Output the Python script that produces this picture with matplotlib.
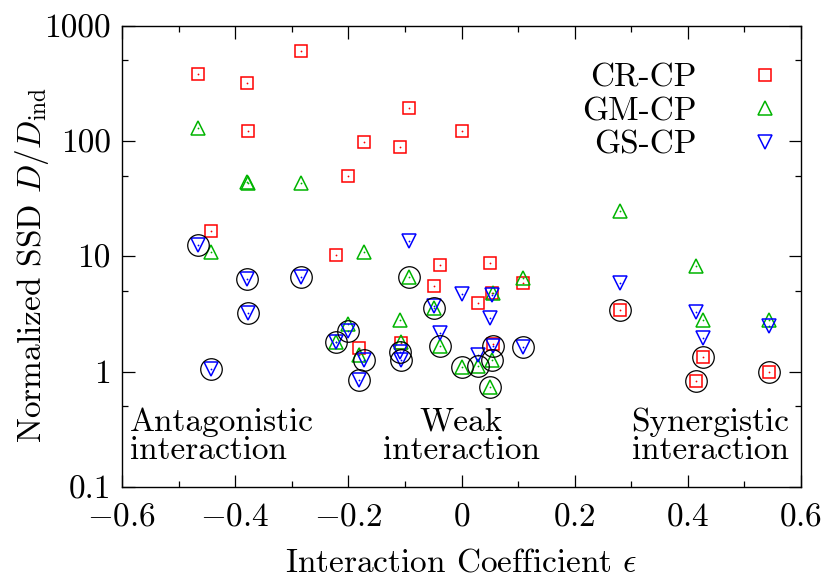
import numpy as np
import matplotlib
matplotlib.use("Agg")
import matplotlib.pyplot as plt

plt.rcParams['font.family'] = ['cmr10']
plt.rcParams['mathtext.fontset'] = 'cm'
plt.rcParams['axes.unicode_minus'] = True
plt.rcParams['axes.formatter.use_mathtext'] = True

# ---- data ----
eps = [-0.466, -0.443, -0.379, -0.377, -0.284, -0.221, -0.200, -0.181, -0.172,
       -0.108, -0.107, -0.093, -0.049, -0.038, 0.001, 0.030, 0.050, 0.054,
       0.055, 0.108, 0.280, 0.414, 0.427, 0.544]
cr_cp = [381, 16.6, 318, 122, 602, 10.3, 49.8, 1.61, 98, 88.6, 1.77, 193, 5.5,
         8.4, 122, 3.95, 8.75, 4.8, 1.74, 5.9, 3.43, 0.83, 1.34, 1.0]
gm_cp = [129, 10.8, 44.4, 43.0, 43.0, 1.79, 2.59, 1.40, 10.8, 2.81, 1.82, 6.6,
         3.55, 1.67, 1.106, 1.13, 0.743, 1.26, 4.8, 6.45, 24.5, 8.2, 2.8, 2.8]
gs_cp = [12.6, 1.06, 6.4, 3.22, 6.55, 1.79, 2.26, 0.85, 1.26, 1.49, 1.26, 13.6,
         3.72, 2.16, 4.7, 1.40, 2.91, 4.63, 1.67, 1.62, 5.85, 3.27, 1.97, 2.47]

series_names = ['CR-CP', 'GM-CP', 'GS-CP']
xticks = [-0.6, -0.4, -0.2, 0, 0.2, 0.4, 0.6]
xticklabels = [r'$-0.6$', r'$-0.4$', r'$-0.2$', r'$0$', r'$0.2$', r'$0.4$', r'$0.6$']
yticks = [0.1, 1, 10, 100, 1000]
yticklabels = ['0.1', '1', '10', '100', '1000']

colors = ['#ff0000', '#00b400', '#0000ff']
markers = ['s', '^', 'v']
msizes = [9.0, 9.8, 9.8]
FS = 24

fig = plt.figure(figsize=(8.24, 5.78), dpi=100)
ax = fig.add_axes([122/824, 1 - 487/578, (801-122)/824, (487-25.6)/578])

eps_a = np.array(eps)
all_vals = np.array([cr_cp, gm_cp, gs_cp])
for vals, name, c, m, ms in zip(all_vals, series_names, colors, markers, msizes):
    ax.plot(eps_a, vals, linestyle='none', marker=m, ms=ms, mfc='none',
            mec=c, mew=1.1, label=name, zorder=3)
    ax.plot(eps_a, vals, linestyle='none', marker='o', ms=1.3, mfc=c, mec=c,
            mew=0, zorder=3)

# circle the best (lowest) method for each experiment
best = all_vals.min(axis=0)
ax.plot(eps_a, best, linestyle='none', marker='o', ms=15.5, mfc='none',
        mec='black', mew=0.9, zorder=4)

ax.set_yscale('log')
ax.set_xlim(-0.6, 0.6)
ax.set_ylim(0.1, 1000)
ax.set_xticks(xticks, xticklabels)
ax.set_xticks(np.arange(-0.5, 0.6, 0.2), minor=True)
ax.set_yticks(yticks, yticklabels)
ax.set_yticks([0.5, 5, 50, 500], minor=True)
ax.yaxis.set_minor_formatter(matplotlib.ticker.NullFormatter())
ax.tick_params(which='both', direction='in', top=True, right=True,
               labelsize=FS, width=0.9)
ax.tick_params(which='major', length=9, pad=8)
ax.tick_params(axis='x', which='major', pad=11)
ax.tick_params(which='minor', length=4.5)
for s in ax.spines.values():
    s.set_linewidth(1.0)

ax.set_xlabel(r'Interaction Coefficient $\epsilon$', fontsize=FS)
ax.xaxis.set_label_coords(0.5, -0.133)
ax.set_ylabel(r'Normalized SSD $D/D_{\rm ind}$', fontsize=FS)
ax.yaxis.set_label_coords(-0.104, 0.48)

leg = ax.legend(loc='upper right', bbox_to_anchor=(0.993, 0.918),
                frameon=False, markerfirst=False, fontsize=FS,
                handlelength=1.9, handletextpad=1.1, labelspacing=0.12,
                borderpad=0, borderaxespad=0)

ax.text(-0.586, 0.275, 'Antagonistic\ninteraction', fontsize=FS, ha='left',
        va='center', linespacing=0.95)
ax.text(0.0, 0.275, 'Weak\ninteraction', fontsize=FS, ha='center',
        va='center', multialignment='center', linespacing=0.95)
ax.text(0.579, 0.275, 'Synergistic\ninteraction', fontsize=FS, ha='right',
        va='center', multialignment='right', linespacing=0.95)

fig.savefig('out.png', dpi=100)
